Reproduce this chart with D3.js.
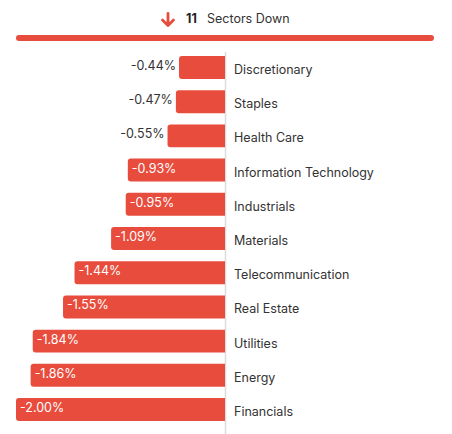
<!DOCTYPE html>
<html>
<head>
<meta charset="utf-8">
<script src="https://cdn.jsdelivr.net/npm/d3@7"></script>
<style>
  body { margin: 0; background: #fff; font-family: Inter, "Noto Sans", sans-serif; }
  svg text { font-family: Inter, "Noto Sans", sans-serif; }
</style>
</head>
<body>
<svg id="chart"></svg>
<script>
const sectors = ['Discretionary', 'Staples', 'Health Care', 'Information Technology', 'Industrials',
  'Materials', 'Telecommunication', 'Real Estate', 'Utilities', 'Energy', 'Financials'];
const changes = [-0.44, -0.47, -0.55, -0.93, -0.95, -1.09, -1.44, -1.55, -1.84, -1.86, -2.00];
const downCount = 11;

const width = 452, height = 434;
const red = '#e84c3d';
const data = sectors.map((s, i) => ({ sector: s, value: changes[i] }));

const svg = d3.select('#chart')
    .attr('width', width)
    .attr('height', height);

// Header: arrow + count + label
const header = svg.append('g');
header.append('path')
    .attr('d', 'M168,13.5 L168,25.5 M162.5,20 L168,25.5 L173.5,20')
    .attr('fill', 'none')
    .attr('stroke', red)
    .attr('stroke-width', 2.8)
    .attr('stroke-linecap', 'round')
    .attr('stroke-linejoin', 'round');
header.append('text')
    .attr('x', 186)
    .attr('y', 23)
    .style('font-size', '12.5px')
    .style('font-weight', 700)
    .attr('fill', '#222')
    .text(downCount);
header.append('text')
    .attr('x', 207)
    .attr('y', 23)
    .style('font-size', '12.5px')
    .attr('fill', '#333')
    .text('Sectors Down');

// Summary bar
svg.append('rect')
    .attr('x', 16)
    .attr('y', 35)
    .attr('width', 418)
    .attr('height', 6)
    .attr('rx', 3)
    .attr('fill', red);

// Scales
const xScale = d3.scaleLinear()
    .domain([-2.00, 0])
    .range([16, 225]);

const yScale = d3.scaleBand()
    .domain(sectors)
    .range([56, 421])
    .paddingInner(0.33)
    .paddingOuter(0);

// Zero axis line
svg.append('line')
    .attr('x1', xScale(0) + 0.5)
    .attr('x2', xScale(0) + 0.5)
    .attr('y1', 52)
    .attr('y2', height)
    .attr('stroke', '#dcdcdc')
    .attr('stroke-width', 1.5);

const r = 3;
const rows = svg.append('g').selectAll('g')
    .data(data)
  .join('g')
    .attr('transform', d => `translate(0,${yScale(d.sector)})`);

// Bars, rounded only on the left side
rows.append('path')
    .attr('fill', red)
    .attr('d', d => {
      const x0 = xScale(d.value), x1 = xScale(0), h = yScale.bandwidth();
      return `M${x1},0 L${x0 + r},0 Q${x0},0 ${x0},${r} L${x0},${h - r} Q${x0},${h} ${x0 + r},${h} L${x1},${h} Z`;
    });

// Value labels: inside the bar if there is room, otherwise to the left
rows.append('text')
    .attr('y', 14)
    .style('font-size', '12.5px')
    .text(d => d.value.toFixed(2) + '%')
    .each(function(d) {
      const t = d3.select(this);
      const tw = this.getComputedTextLength();
      const barW = xScale(0) - xScale(d.value);
      if (barW > tw + 30) {
        t.attr('x', xScale(d.value) + 4).attr('fill', '#fff').attr('text-anchor', 'start');
      } else {
        t.attr('x', xScale(d.value) - 3).attr('fill', '#333').attr('text-anchor', 'end');
      }
    });

// Category labels
rows.append('text')
    .attr('x', 234)
    .attr('y', 18)
    .style('font-size', '12.5px')
    .attr('fill', '#333')
    .text(d => d.sector);
</script>
</body>
</html>
